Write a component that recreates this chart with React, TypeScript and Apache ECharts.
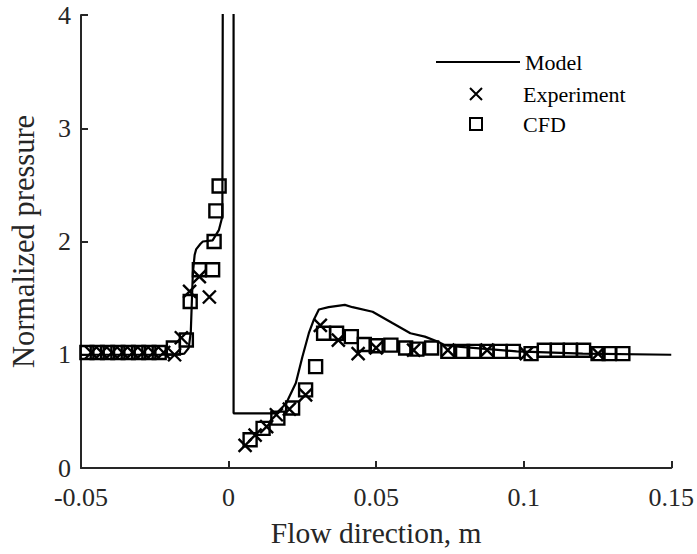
import React, { useEffect, useRef } from "react";
import * as echarts from "echarts";

// Model curve (x in m, normalized pressure); values above 4 leave the plot (clipped)
const modelX = [
  -0.05, -0.018, -0.015, -0.0135, -0.0128, -0.0124, -0.0121, -0.0115, -0.011, -0.0095, -0.0087,
  -0.0054, -0.0033, -0.0021, -0.0019, 0.0017, 0.0017, 0.0162, 0.0195, 0.0228, 0.025, 0.0272,
  0.0289, 0.0306, 0.0339, 0.0394, 0.042, 0.0488, 0.0555, 0.0616, 0.0665, 0.071, 0.0732, 0.0787,
  0.0976, 0.12, 0.15,
];
const modelY = [
  1.0, 1.0, 1.01, 1.06, 1.2, 1.5, 1.72, 1.88, 1.93, 1.98, 2.0,
  2.01, 2.1, 2.22, 5, 5, 0.483, 0.483, 0.57, 0.75, 0.98, 1.19,
  1.31, 1.4, 1.42, 1.44, 1.42, 1.38, 1.28, 1.19, 1.16, 1.115, 1.085, 1.07,
  1.03, 1.01, 1.0,
];

// Experiment points
const expX = [
  -0.0465, -0.043, -0.0395, -0.036, -0.0325, -0.029, -0.0255, -0.022, -0.0183, -0.016, -0.0132,
  -0.0099, -0.0065, 0.0056, 0.009, 0.0129, 0.0162, 0.0206, 0.0261, 0.0311, 0.0372, 0.0439, 0.05,
  0.0627, 0.0743, 0.0876, 0.1009, 0.1252,
];
const expY = [
  1.02, 1.02, 1.02, 1.02, 1.02, 1.02, 1.02, 1.02, 1.0, 1.15, 1.56,
  1.69, 1.51, 0.2, 0.29, 0.365, 0.47, 0.52, 0.645, 1.26, 1.13, 1.01, 1.06,
  1.04, 1.04, 1.04, 1.01, 1.01,
];

// CFD points
const cfdX = [
  -0.048, -0.0445, -0.041, -0.0375, -0.034, -0.0305, -0.027, -0.0235, -0.0187, -0.0143, -0.013,
  -0.0099, -0.0054, -0.0049, -0.0043, -0.0032, 0.0073, 0.0117, 0.0167, 0.0217, 0.0261, 0.0295,
  0.0322, 0.0366, 0.0416, 0.046, 0.05, 0.055, 0.06, 0.0638, 0.0688, 0.0743, 0.0793, 0.0832,
  0.0876, 0.092, 0.0965, 0.1025, 0.107, 0.1114, 0.1158, 0.1203, 0.1252, 0.129, 0.1336,
];
const cfdY = [
  1.02, 1.02, 1.02, 1.02, 1.02, 1.02, 1.02, 1.02, 1.06, 1.13, 1.47,
  1.75, 1.75, 2.0, 2.27, 2.49, 0.25, 0.35, 0.44, 0.53, 0.69, 0.895,
  1.19, 1.19, 1.16, 1.09, 1.08, 1.085, 1.06, 1.05, 1.06, 1.03, 1.03, 1.03,
  1.03, 1.03, 1.03, 1.01, 1.04, 1.04, 1.04, 1.04, 1.01, 1.01, 1.01,
];

const xTickLabels = ["-0.05", "0", "0.05", "0.1", "0.15"];
const yTickLabels = ["0", "1", "2", "3", "4"];

const FONT = "Liberation Serif, Times New Roman, DejaVu Serif, serif";
const AXIS_COLOR = "#262626";
const CROSS = "path://M0,0L10,10M10,0L0,10";

export default function App() {
  const ref = useRef<HTMLDivElement>(null);
  useEffect(() => {
    if (!ref.current) return;
    const chart = echarts.init(ref.current, undefined, { renderer: "svg" });
    const zip = (xs: number[], ys: number[]) => xs.map((x, i) => [x, ys[i]]);
    chart.setOption({
      animation: false,
      backgroundColor: "#ffffff",
      textStyle: { fontFamily: FONT },
      grid: { left: 73, right: 24, top: 15, bottom: 86, containLabel: false },
      xAxis: {
        type: "value",
        min: -0.05,
        max: 0.15,
        interval: 0.05,
        name: "Flow direction, m",
        nameLocation: "middle",
        nameGap: 50,
        nameTextStyle: { fontFamily: FONT, fontSize: 29.5, color: AXIS_COLOR },
        axisLine: { onZero: false, lineStyle: { color: AXIS_COLOR, width: 2 } },
        axisTick: { inside: true, length: 7, lineStyle: { color: AXIS_COLOR, width: 2 } },
        axisLabel: {
          fontFamily: FONT,
          fontSize: 26,
          color: AXIS_COLOR,
          margin: 16,
          showMinLabel: true,
          showMaxLabel: true,
          formatter: (v: number) => xTickLabels[Math.round((v + 0.05) / 0.05)] ?? "",
        },
        splitLine: { show: false },
      },
      yAxis: {
        type: "value",
        min: 0,
        max: 4,
        interval: 1,
        name: "Normalized pressure",
        nameLocation: "middle",
        nameGap: 42,
        nameTextStyle: { fontFamily: FONT, fontSize: 30.5, color: AXIS_COLOR },
        axisLine: { show: true, onZero: false, lineStyle: { color: AXIS_COLOR, width: 2 } },
        axisTick: { show: true, inside: true, length: 7, lineStyle: { color: AXIS_COLOR, width: 2 } },
        axisLabel: {
          fontFamily: FONT,
          fontSize: 26,
          color: AXIS_COLOR,
          margin: 10,
          showMinLabel: true,
          showMaxLabel: true,
          formatter: (v: number) => yTickLabels[Math.round(v)] ?? "",
        },
        splitLine: { show: false },
      },
      legend: [
        {
          data: [{ name: "Model", itemStyle: { opacity: 0 } }],
          left: 435,
          top: 51,
          padding: 0,
          itemWidth: 84,
          itemHeight: 14,
          textStyle: { fontFamily: FONT, fontSize: 22, color: "#000" },
        },
        {
          data: ["Experiment", "CFD"],
          orient: "vertical",
          left: 469,
          top: 83,
          padding: 0,
          itemWidth: 12,
          itemHeight: 12,
          itemGap: 8,
          textStyle: { fontFamily: FONT, fontSize: 22, color: "#000", padding: [0, 0, 0, 36] },
        },
      ],
      series: [
        {
          name: "Model",
          type: "line",
          data: zip(modelX, modelY),
          showSymbol: false,
          symbol: "none",
          clip: true,
          lineStyle: { color: "#000", width: 2.2 },
          itemStyle: { color: "#000" },
          z: 3,
        },
        {
          name: "Experiment",
          type: "scatter",
          data: zip(expX, expY),
          symbol: CROSS,
          symbolSize: 13,
          itemStyle: { color: "transparent", borderColor: "#000", borderWidth: 2.4, opacity: 1 },
          z: 4,
        },
        {
          name: "CFD",
          type: "scatter",
          data: zip(cfdX, cfdY),
          symbol: "rect",
          symbolSize: 13,
          itemStyle: { color: "transparent", borderColor: "#000", borderWidth: 2.4, opacity: 1 },
          z: 4,
        },
      ],
    });
    return () => chart.dispose();
  }, []);
  return (
    <div
      ref={ref}
      style={{ position: "fixed", left: 0, top: 0, width: 697, height: 554, background: "#fff" }}
    />
  );
}
